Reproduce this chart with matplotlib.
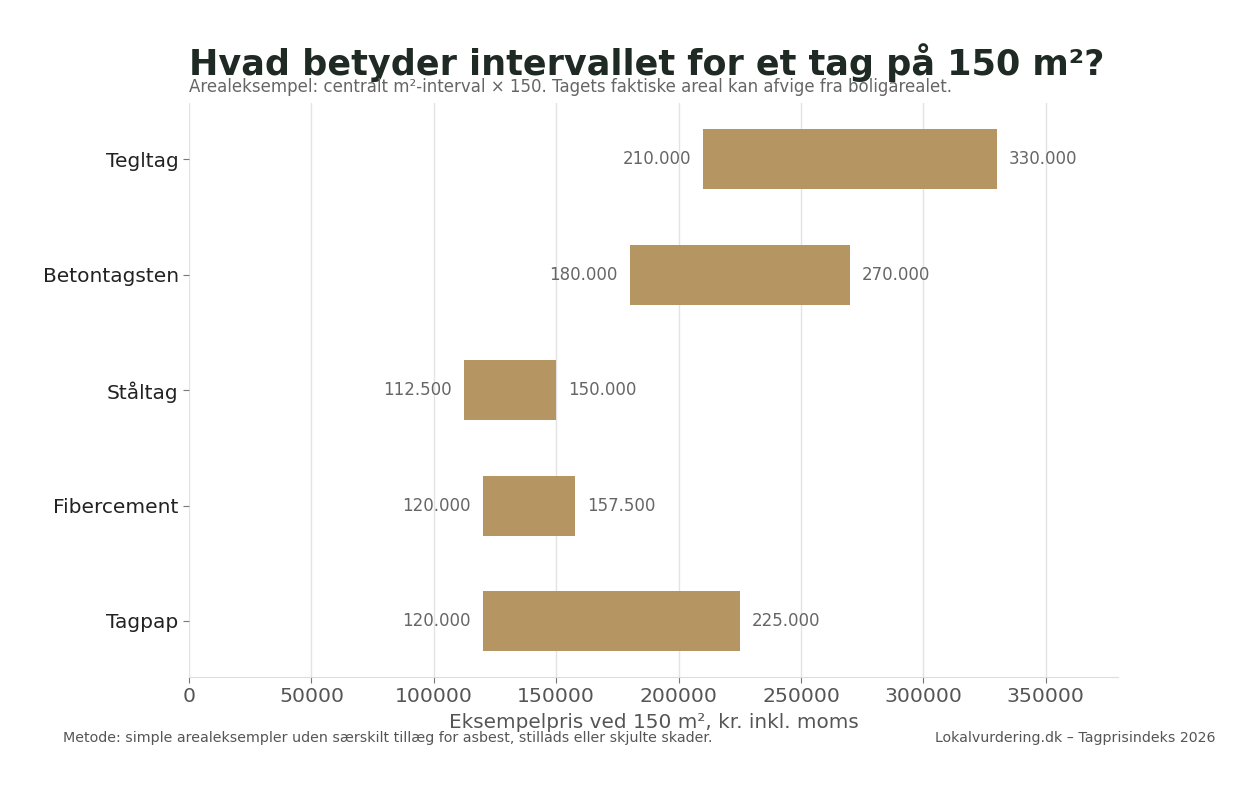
import matplotlib
matplotlib.use("Agg")
import matplotlib.pyplot as plt

# Data: eksempelpris ved 150 m2 (kr. inkl. moms)
tagtyper = ["Tagpap", "Fibercement", "Ståltag", "Betontagsten", "Tegltag"]
pris_lav = [120000, 120000, 112500, 180000, 210000]
pris_hoj = [225000, 157500, 150000, 270000, 330000]

titel = "Hvad betyder intervallet for et tag på 150 m²?"
undertitel = "Arealeksempel: centralt m²-interval × 150. Tagets faktiske areal kan afvige fra boligarealet."
xlabel = "Eksempelpris ved 150 m², kr. inkl. moms"
kilde_venstre = "Metode: simple arealeksempler uden særskilt tillæg for asbest, stillads eller skjulte skader."
kilde_hojre = "Lokalvurdering.dk – Tagprisindeks 2026"

bar_farve = "#b59662"
tekst_graa = "#666666"

def fmt(v):
    return f"{v:,.0f}".replace(",", ".")

fig = plt.figure(figsize=(12.57, 7.87), dpi=100)
ax = fig.add_axes([0.1504, 0.1398, 0.739, 0.729])

bredder = [h - l for l, h in zip(pris_lav, pris_hoj)]
ax.barh(tagtyper, bredder, left=pris_lav, height=0.52, color=bar_farve, zorder=3)

offset = 5000
for i, (l, h) in enumerate(zip(pris_lav, pris_hoj)):
    ax.text(l - offset, i, fmt(l), ha="right", va="center", fontsize=12, color=tekst_graa)
    ax.text(h + offset, i, fmt(h), ha="left", va="center", fontsize=12, color=tekst_graa)

ax.set_xlim(0, max(pris_hoj) * 1.15)
ax.grid(axis="x", color="#e3e3e3", linewidth=1, zorder=0)
ax.set_axisbelow(True)
for s in ["top", "right", "left"]:
    ax.spines[s].set_visible(False)
ax.spines["bottom"].set_color("#dddddd")
ax.tick_params(axis="y", labelsize=14.5, labelcolor="#222222", color="#777777", length=4)
ax.tick_params(axis="x", labelsize=14.7, labelcolor="#555555", color="#777777", length=4)
ax.set_xlabel(xlabel, fontsize=14.4, color="#555555", labelpad=5)

fig.text(0.1504, 0.921, titel, fontsize=25.2, fontweight="bold", color="#1f2a24", ha="left", va="center")
fig.text(0.1504, 0.890, undertitel, fontsize=12, color=tekst_graa, ha="left", va="center")
fig.text(0.05, 0.062, kilde_venstre, fontsize=10.25, color="#555555", ha="left", va="center")
fig.text(0.967, 0.062, kilde_hojre, fontsize=10.2, color="#555555", ha="right", va="center")

fig.savefig("out.png", dpi=100, facecolor="white")
